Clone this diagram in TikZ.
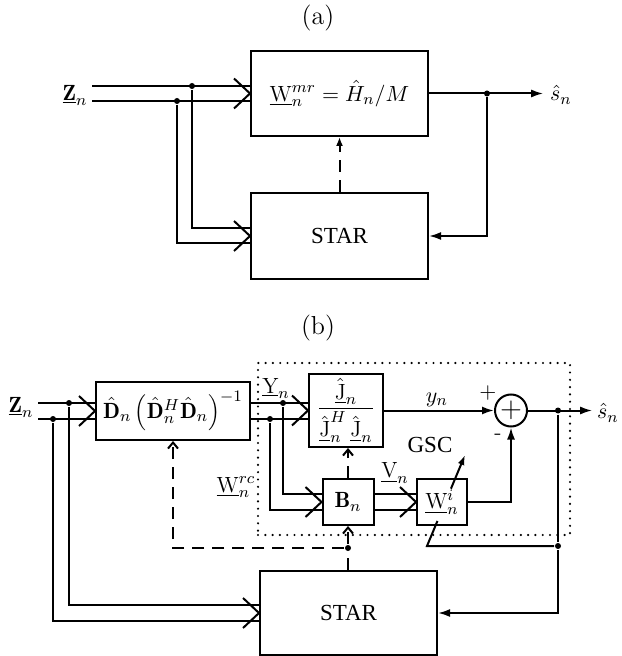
\documentclass[tikz,border=0pt]{standalone}
\usepackage{fontspec}
\newfontfamily\timesf{Liberation Serif}
\usetikzlibrary{arrows.meta,calc}
\newcommand\buschev[1]{\draw[line join=miter] (#1) ++(-16,-15) -- (#1) -- ++(-16,15);}
\begin{document}
\begin{tikzpicture}[x=0.5pt,y=-0.5pt,line width=1pt,
  every node/.style={font=\fontsize{11}{13}\selectfont},
  box/.style={draw,inner sep=0pt},
  lbl/.style={inner sep=0pt},
  captxt/.style={inner sep=0pt,font=\fontsize{13}{15}\selectfont},
  junc/.style={circle,fill,inner sep=0pt,minimum size=3pt},
  arr/.style={-{Latex[length=6pt,width=4pt]}},
  dsh/.style={dash pattern=on 6pt off 4pt},
  darra/.style={dsh,-{Latex[length=4.5pt,width=3.5pt]}},
  darrb/.style={dsh,-{Straight Barb[length=3pt,width=5pt]}},
  gscbox/.style={draw,line cap=round,dash pattern=on 0pt off 3.65pt,line width=1.2pt}
]
\useasboundingbox (0,0) rectangle (621,656);

% ---------------- panel (a)
\node[captxt] (capa) at (318,18) {(a)};
\node[box,minimum width=88.5pt,minimum height=42.5pt] (Wa) at (339.5,93.5) {$\underline{\mathrm{W}}_n^{mr}=\hat{H}_n/M$};
\node[box,minimum width=88.5pt,minimum height=43pt] (Sa) at (339.5,236) {\fontsize{11.5}{13}\timesf STAR};
\node[lbl] (Za) at (75,95) {$\underline{\mathbf{Z}}_n$};
\coordinate (za1) at (92,86);
\coordinate (za2) at (92,101);
\coordinate (wa1) at ($(Wa.west)+(0,-7.5)$);
\coordinate (wa2) at ($(Wa.west)+(0,7.5)$);
\coordinate (sa1) at ($(Sa.west)+(0,-7.5)$);
\coordinate (sa2) at ($(Sa.west)+(0,7.5)$);
\draw (za1) -- (wa1);
\draw (za2) -- (wa2);
\buschev{Wa.west}
\node[junc] (ja1) at (192,86) {};
\node[junc] (ja2) at (177,101) {};
\draw (ja1) |- (sa1);
\draw (ja2) |- (sa2);
\buschev{Sa.west}
\node[lbl] (sha) at (561,95) {$\hat{s}_n$};
\node[junc] (oa) at (487,93.5) {};
\draw[arr,shorten >=3pt] (Wa.east) -- (Wa.east -| sha.west);
\draw[arr] (oa) |- (Sa.east);
\draw[darra] (Sa.north) -- (Wa.south);

% ---------------- panel (b)
\node[captxt] (capb) at (318,328) {(b)};
\node[gscbox,minimum width=156pt,minimum height=86pt,inner sep=0pt] (gsc) at (414,449) {};
\node[box,minimum width=77pt,minimum height=29pt] (D) at (173,411) {$\hat{\mathbf{D}}_n\left(\hat{\mathbf{D}}_n^H\hat{\mathbf{D}}_n\right)^{-1}$};
\node[box,minimum width=37pt,minimum height=36.5pt] (J) at (346,410.5) {$\displaystyle\frac{\underline{\hat{\mathrm{J}}}_n}{\underline{\hat{\mathrm{J}}}_n^H\,\underline{\hat{\mathrm{J}}}_n}$};
\node[box,minimum width=25.5pt,minimum height=23pt] (B) at (348,502) {$\mathbf{B}_n$};
\node[box,minimum width=25pt,minimum height=23pt] (Wb) at (442,502) {$\underline{\mathrm{W}}_n^i$};
\node[draw,circle,minimum size=16pt,inner sep=0pt,font=\fontsize{14}{15}\selectfont] (sum) at (511,410.5) {$+$};
\node[box,minimum width=88.5pt,minimum height=42pt] (Sb) at (348.5,613) {\fontsize{11.5}{13}\timesf STAR};

\node[lbl] (Zb) at (21,407) {$\underline{\mathbf{Z}}_n$};
\node[lbl] (Yl) at (276,388) {$\underline{\mathrm{Y}}_n$};
\node[lbl] (Wrc) at (236,487) {$\underline{\mathrm{W}}_n^{rc}$};
\node[lbl] (Vl) at (395,473) {$\underline{\mathrm{V}}_n$};
\node[lbl] (yl) at (437,400) {$y_n$};
\node[lbl] (pl) at (488,393) {$+$};
\node[lbl] (ml) at (498,437) {-};
\node[lbl] (gl) at (430,445) {\fontsize{11.5}{13}\timesf GSC};
\node[lbl] (shb) at (608,413) {$\hat{s}_n$};

% Z bus
\coordinate (zb1) at (38,403);
\coordinate (zb2) at (38,419);
\coordinate (Dw1) at ($(D.west)+(0,-8)$);
\coordinate (Dw2) at ($(D.west)+(0,8)$);
\draw (zb1) -- (Dw1);
\draw (zb2) -- (Dw2);
\buschev{D.west}
\node[junc] (jb1) at (69,403) {};
\node[junc] (jb2) at (53,419) {};
\coordinate (Sbw1) at ($(Sb.west)+(0,-8)$);
\coordinate (Sbw2) at ($(Sb.west)+(0,8)$);
\draw (jb1) |- (Sbw1);
\draw (jb2) |- (Sbw2);
\buschev{Sb.west}

% Y bus
\coordinate (De1) at ($(D.east)+(0,-8)$);
\coordinate (De2) at ($(D.east)+(0,8)$);
\draw (De1) -- (J.west |- De1);
\draw (De2) -- (J.west |- De2);
\buschev{J.west}
\node[junc] (jy1) at (283,403) {};
\node[junc] (jy2) at (270,419) {};
\coordinate (Bw1) at ($(B.west)+(0,-8)$);
\coordinate (Bw2) at ($(B.west)+(0,8)$);
\draw (jy1) |- (Bw1);
\draw (jy2) |- (Bw2);
\buschev{B.west}

% V bus
\coordinate (Be1) at ($(B.east)+(0,-8)$);
\coordinate (Be2) at ($(B.east)+(0,8)$);
\draw (Be1) -- (Wb.west |- Be1);
\draw (Be2) -- (Wb.west |- Be2);
\buschev{Wb.west}

% GSC signal paths
\draw[arr] (J.east) -- (sum.west);
\draw[arr,shorten >=2pt] (sum.east) -- (sum.east -| shb.west);
\draw[arr] (Wb.east) -| (sum.south);
\node[junc] (ob) at (558,410.5) {};
\node[junc] (fb) at (558,546) {};
\draw (ob) -- (fb);
\draw[arr] (fb) |- (Sb.east);
\coordinate (ad0) at (427,546);
\coordinate (ad1) at (465,455);
\draw (fb) -- (ad0) -- ($(ad0)!0.275!(ad1)$);
\draw[-{Latex[length=5pt,width=3.5pt]}] ($(ad0)!0.63!(ad1)$) -- (ad1);

% dashed control paths
\node[junc] (dd) at (348,548) {};
\draw[dsh] (Sb.north -| dd) -- (dd);
\draw[darrb] (dd) -- (B.south -| dd);
\draw[darrb] (B.north -| dd) -- (J.south -| dd);
\draw[darrb] (dd) -| (D.south);
\end{tikzpicture}
\end{document}
